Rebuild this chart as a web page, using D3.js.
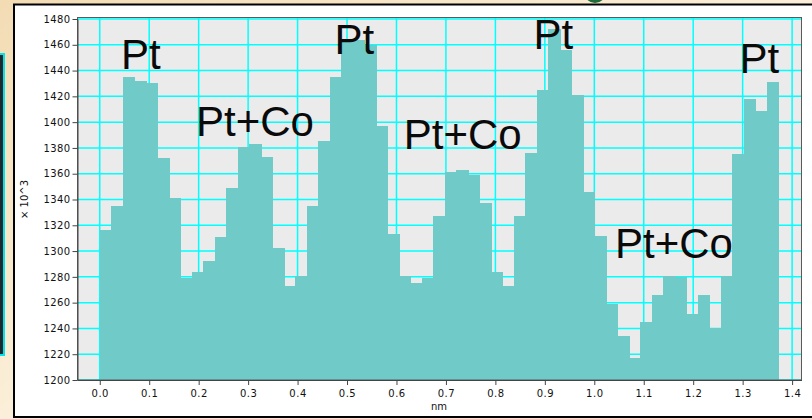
<!DOCTYPE html>
<html>
<head>
<meta charset="utf-8">
<script src="https://cdn.jsdelivr.net/npm/d3@7"></script>
<style>
  body { margin: 0; background: #f6e4c4; }
  svg { display: block; }
</style>
</head>
<body>
<div id="vis"></div>
<script>
const FRAME_WIDTH = 812;
const FRAME_HEIGHT = 419;
const PLOT = {left: 77.5, right: 801.5, top: 17.5, bottom: 380};

// bin width of the line profile (nm)
const BIN_WIDTH = 0.02325;

// intensity per bin, x 10^3 counts
const COUNTS = [
  1316, 1335, 1435, 1432, 1430, 1372, 1341, 1279, 1284, 1292,
  1311, 1349, 1381, 1383, 1373, 1302, 1273, 1281, 1335, 1385,
  1435, 1464, 1464, 1460, 1397, 1313, 1281, 1275, 1279, 1327,
  1361, 1363, 1359, 1337, 1284, 1273, 1327, 1376, 1425, 1472,
  1456, 1421, 1346, 1312, 1259, 1234, 1217, 1245, 1266, 1281,
  1280, 1251, 1266, 1240, 1281, 1375, 1418, 1409, 1431
];

const X_TICKS = [0.0, 0.1, 0.2, 0.3, 0.4, 0.5, 0.6, 0.7, 0.8, 0.9, 1.0, 1.1, 1.2, 1.3, 1.4];
const Y_TICKS = [1200, 1220, 1240, 1260, 1280, 1300, 1320, 1340, 1360, 1380, 1400, 1420, 1440, 1460, 1480];

// phase annotations
const LABEL_TEXT = ["Pt", "Pt+Co", "Pt", "Pt+Co", "Pt", "Pt+Co", "Pt"];
const LABEL_X = [0.083, 0.314, 0.515, 0.734, 0.917, 1.161, 1.334];
const LABEL_Y = [1441, 1389, 1453, 1379, 1457, 1295, 1438];

const FRAME = d3.select("#vis")
                  .append("svg")
                    .attr("width", FRAME_WIDTH)
                    .attr("height", FRAME_HEIGHT);

// beige backdrop
const grad = FRAME.append("defs").append("linearGradient")
                  .attr("id", "bg").attr("x1", 0).attr("y1", 0).attr("x2", 1).attr("y2", 1);
grad.append("stop").attr("offset", "0%").attr("stop-color", "#f3dcb4");
grad.append("stop").attr("offset", "50%").attr("stop-color", "#fbefd9");
grad.append("stop").attr("offset", "100%").attr("stop-color", "#f3dfbd");
FRAME.append("rect").attr("width", FRAME_WIDTH).attr("height", FRAME_HEIGHT).attr("fill", "url(#bg)");

// bits of the surrounding window
FRAME.append("circle").attr("cx", 595).attr("cy", -8).attr("r", 11).attr("fill", "#1f6b3a");
FRAME.append("rect")
      .attr("x", -10).attr("y", 54).attr("width", 14).attr("height", 301)
      .attr("fill", "#1c2a30").attr("stroke", "#00e5ee").attr("stroke-width", 2);

// white panel
FRAME.append("rect")
      .attr("x", 14).attr("y", 4.5).attr("width", 900).attr("height", 412.5)
      .attr("fill", "#ffffff").attr("stroke", "#000").attr("stroke-width", 2);

const X_SCALE = d3.scaleLinear()
                    .domain([-0.045, 1.419])
                    .range([PLOT.left, PLOT.right]);

const Y_SCALE = d3.scaleLinear()
                    .domain([1200, 1480])
                    .range([PLOT.bottom, 19]);

// plot background
FRAME.append("rect")
      .attr("x", PLOT.left).attr("y", PLOT.top)
      .attr("width", PLOT.right - PLOT.left).attr("height", PLOT.bottom - PLOT.top)
      .attr("fill", "#ebebeb");

// grid
FRAME.append("g").selectAll("line")
      .data(X_TICKS).enter().append("line")
        .attr("x1", (d) => X_SCALE(d)).attr("x2", (d) => X_SCALE(d))
        .attr("y1", PLOT.top).attr("y2", PLOT.bottom)
        .attr("stroke", "#00ffff").attr("stroke-width", 1.5);

FRAME.append("g").selectAll("line")
      .data(Y_TICKS).enter().append("line")
        .attr("x1", PLOT.left).attr("x2", PLOT.right)
        .attr("y1", (d) => Y_SCALE(d)).attr("y2", (d) => Y_SCALE(d))
        .attr("stroke", "#00ffff").attr("stroke-width", 1.5);

// bars
FRAME.append("g")
      .attr("shape-rendering", "crispEdges")
      .selectAll("rect")
      .data(COUNTS).enter().append("rect")
        .attr("x", (d, i) => X_SCALE(i * BIN_WIDTH))
        .attr("y", (d) => Y_SCALE(d))
        .attr("width", (d, i) => X_SCALE((i + 1) * BIN_WIDTH) - X_SCALE(i * BIN_WIDTH) + 1)
        .attr("height", (d) => PLOT.bottom - Y_SCALE(d))
        .attr("fill", "#6fcac8");

// plot frame
FRAME.append("rect")
      .attr("x", PLOT.left).attr("y", PLOT.top)
      .attr("width", PLOT.right - PLOT.left).attr("height", PLOT.bottom - PLOT.top)
      .attr("fill", "none").attr("stroke", "#5a5a5a").attr("stroke-width", 1);

// x axis
const xAxis = FRAME.append("g")
      .attr("transform", "translate(0," + PLOT.bottom + ")")
      .call(d3.axisBottom(X_SCALE).tickValues(X_TICKS).tickFormat(d3.format(".1f")).tickSize(5).tickSizeOuter(0));
xAxis.select(".domain").attr("stroke", "#444");
xAxis.selectAll(".tick line").attr("stroke", "#444");
xAxis.selectAll("text")
      .attr("font-family", "DejaVu Sans, sans-serif").attr("font-size", "10px")
      .attr("fill", "#111").attr("dy", "0.9em").attr("letter-spacing", "0.5px");

// y axis
const yAxis = FRAME.append("g")
      .attr("transform", "translate(" + PLOT.left + ",0)")
      .call(d3.axisLeft(Y_SCALE).tickValues(Y_TICKS).tickFormat(d3.format("d")).tickSize(5).tickSizeOuter(0));
yAxis.select(".domain").attr("stroke", "#444");
yAxis.selectAll(".tick line").attr("stroke", "#444");
yAxis.selectAll("text")
      .attr("font-family", "DejaVu Sans, sans-serif").attr("font-size", "10px")
      .attr("fill", "#111").attr("x", -7).attr("letter-spacing", "0.4px");

// axis titles
FRAME.append("text")
      .attr("x", X_SCALE(0.686)).attr("y", 410)
      .attr("text-anchor", "middle")
      .attr("font-family", "DejaVu Sans, sans-serif").attr("font-size", "10px")
      .attr("fill", "#111")
      .text("nm");

FRAME.append("text")
      .attr("transform", "translate(28," + Y_SCALE(1340) + ") rotate(-90)")
      .attr("text-anchor", "middle")
      .attr("font-family", "DejaVu Sans, sans-serif").attr("font-size", "10px")
      .attr("fill", "#111")
      .text("× 10^3");

// annotations
FRAME.append("g").selectAll("text")
      .data(LABEL_TEXT).enter().append("text")
        .attr("x", (d, i) => X_SCALE(LABEL_X[i]))
        .attr("y", (d, i) => Y_SCALE(LABEL_Y[i]))
        .attr("text-anchor", "middle")
        .attr("font-family", "Liberation Sans, Arial, sans-serif")
        .attr("font-size", "42px")
        .attr("fill", "#0a0a0a")
        .text((d) => d);
</script>
</body>
</html>
